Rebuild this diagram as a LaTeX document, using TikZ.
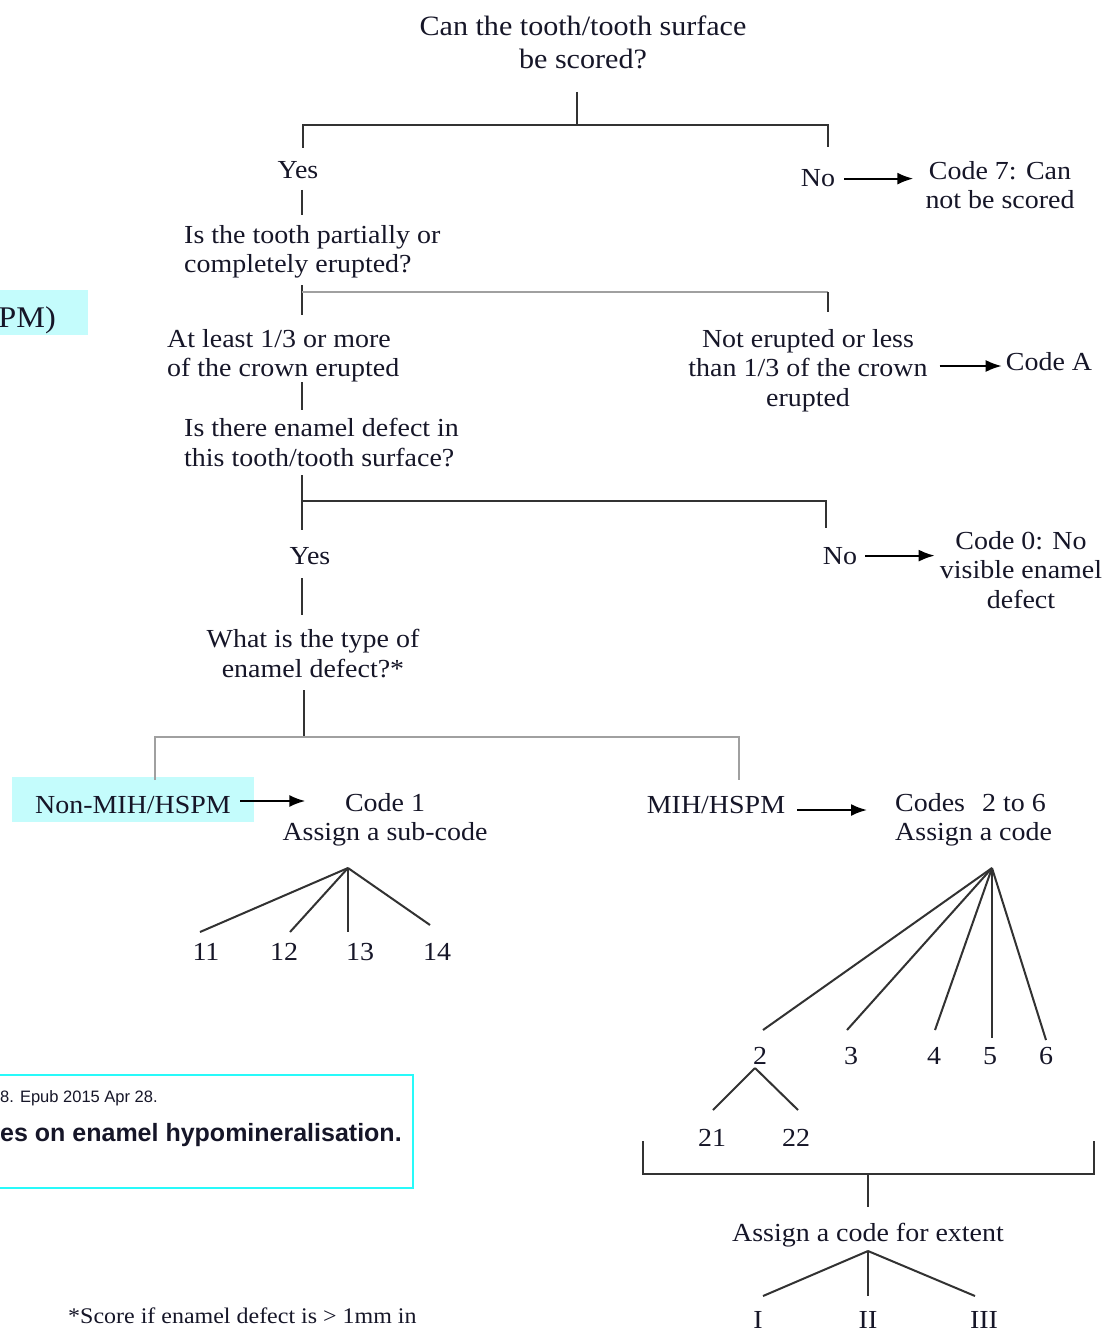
\documentclass[tikz,border=0pt]{standalone}
\usepackage{fontspec}
\setmainfont[FakeStretch=1.075]{Liberation Serif}
\newfontfamily\arialf{Liberation Sans}
\usetikzlibrary{arrows.meta}
\definecolor{ink}{RGB}{22,22,40}
\definecolor{lineg}{RGB}{50,50,50}
\definecolor{lightg}{RGB}{160,160,160}
\definecolor{cyanfill}{RGB}{196,252,252}
\definecolor{cyanline}{RGB}{40,250,250}
\begin{document}
\begin{tikzpicture}[x=1pt,y=-1pt,
  txt/.style={inner sep=0pt, text=ink, font=\fontsize{26}{29.5}\selectfont},
  bigtxt/.style={inner sep=0pt, text=ink, font=\fontsize{28}{33}\selectfont},
  lbl/.style={txt, anchor=base},
  ln/.style={draw=lineg, line width=2pt},
  lnlight/.style={draw=lightg, line width=2.6pt},
  arr/.style={draw=black, line width=2pt, -{Latex[length=16pt,width=12pt]}},
  hl/.style={fill=cyanfill, draw=none}]
\useasboundingbox (0,0) rectangle (1119,1332);
\fill[white] (0,0) rectangle (1119,1332);

% side fragments
\node[hl, inner sep=0pt, minimum width=88pt, minimum height=45pt, anchor=north west] (pmbox) at (0,290) {};
\node[inner sep=0pt, text=ink, font=\fontsize{30}{34}\selectfont, anchor=base east] (pm) at (56,327) {PM)};

\node[draw=cyanline, line width=2pt, inner sep=0pt, minimum width=430pt, minimum height=113pt, anchor=north east] (refbox) at (414,1074) {};
\node[inner sep=0pt, text=ink, font=\arialf\fontsize{16.5}{19}\selectfont, anchor=base west] (epub) at (0,1102) {8. Epub 2015 Apr 28.};
\node[inner sep=0pt, text=ink, font=\arialf\bfseries\fontsize{25}{28}\selectfont, anchor=base west] (ttl) at (0,1141) {es on enamel hypomineralisation.};

% main text nodes
\node[bigtxt, align=center, anchor=north] (title) at (583,16) {Can the tooth/tooth surface\\be scored?};
\node[lbl] (yes1) at (298,179) {Yes};
\node[lbl] (no1) at (818,187) {No};
\node[txt, align=center, anchor=north] (code7) at (1000,161) {Code 7: Can\\not be scored};
\node[txt, align=left, anchor=north west] (q2) at (184,225) {Is the tooth partially or\\completely erupted?};
\node[txt, align=left, anchor=north west] (a1) at (167,329) {At least 1/3 or more\\of the crown erupted};
\node[txt, align=center, anchor=north] (n2) at (808,329) {Not erupted or less\\than 1/3 of the crown\\erupted};
\node[lbl] (codeA) at (1049,370) {Code A};
\node[txt, align=left, anchor=north west] (q3) at (184,418) {Is there enamel defect in\\this tooth/tooth surface?};
\node[lbl] (yes3) at (310,564) {Yes};
\node[lbl] (no3) at (840,564) {No};
\node[txt, align=center, anchor=north] (code0) at (1021,531) {Code 0: No\\visible enamel\\defect};
\node[txt, align=center, anchor=north] (q4) at (313,629) {What is the type of\\enamel defect?*};

\node[hl, txt, minimum width=242pt, minimum height=45pt, text height=27pt, text depth=0pt] (nonmih) at (133,799.5) {Non-MIH/HSPM};
\node[txt, align=center, anchor=north] (code1) at (385,793) {Code 1\\Assign a sub-code};
\node[lbl] (mih) at (716,813) {MIH/HSPM};
\node[txt, align=left, anchor=north west] (codes) at (895,793) {Codes\hspace{17pt}2 to 6\\Assign a code};

\node[lbl] (c11) at (206,960) {11};
\node[lbl] (c12) at (284,960) {12};
\node[lbl] (c13) at (360,960) {13};
\node[lbl] (c14) at (437,960) {14};

\node[lbl] (c2) at (760,1064) {2};
\node[lbl] (c3) at (851,1064) {3};
\node[lbl] (c4) at (934,1064) {4};
\node[lbl] (c5) at (990,1064) {5};
\node[lbl] (c6) at (1046,1064) {6};
\node[lbl] (c21) at (712,1146) {21};
\node[lbl] (c22) at (796,1146) {22};

\node[lbl] (extent) at (868,1241) {Assign a code for extent};
\node[lbl] (eI) at (758,1328) {I};
\node[lbl] (eII) at (868,1328) {II};
\node[lbl] (eIII) at (984,1328) {III};

\node[inner sep=0pt, text=ink, font=\fontsize{22.3}{25}\selectfont, anchor=base west] (foot) at (68,1323) {*Score if enamel defect is > 1mm in};

% junction coordinates
\coordinate (t0) at (577,92);
\coordinate (t1) at (577,125);
\coordinate (tL) at (303,125);
\coordinate (tLb) at (303,148);
\coordinate (tR) at (828,125);
\coordinate (tRb) at (828,147);
\coordinate (y1a) at (302,190);
\coordinate (y1b) at (302,215);
\coordinate (q2a) at (302,285);
\coordinate (q2b) at (302,315);
\coordinate (q2j) at (302,292);
\coordinate (q2R) at (828,292);
\coordinate (q2Rb) at (828,312);
\coordinate (a1a) at (302,382);
\coordinate (a1b) at (302,410);
\coordinate (q3a) at (302,475);
\coordinate (q3b) at (302,530);
\coordinate (q3j) at (302,501);
\coordinate (q3R) at (826,501);
\coordinate (q3Rb) at (826,528);
\coordinate (y3a) at (302,578);
\coordinate (y3b) at (302,615);
\coordinate (q4a) at (304,690);
\coordinate (q4j) at (304,737);
\coordinate (q4L) at (155,737);
\coordinate (q4Lb) at (155,780);
\coordinate (q4R) at (739,737);
\coordinate (q4Rb) at (739,780);
\coordinate (s1) at (348,868);
\coordinate (s2) at (992,868);
\coordinate (s21) at (755,1068);
\coordinate (bL) at (643,1141);
\coordinate (bLj) at (643,1174);
\coordinate (bR) at (1094,1141);
\coordinate (bRj) at (1094,1174);
\coordinate (bC) at (868,1174);
\coordinate (bCb) at (868,1207);
\coordinate (s3) at (868,1251);

% tree lines
\draw[ln] (t0) -- (t1);
\draw[ln] (tLb) -- (tL) -- (tR) -- (tRb);
\draw[ln] (y1a) -- (y1b);
\draw[ln] (q2a) -- (q2b);
\draw[lnlight] (q2j) -- (q2R);
\draw[ln] (q2R) -- (q2Rb);
\draw[ln] (a1a) -- (a1b);
\draw[ln] (q3a) -- (q3b);
\draw[ln] (q3j) -- (q3R) -- (q3Rb);
\draw[ln] (y3a) -- (y3b);
\draw[ln] (q4a) -- (q4j);
\draw[lnlight] (q4Lb) -- (q4L) -- (q4R) -- (q4Rb);

\draw[ln] (s1) -- (200,932) coordinate (e11);
\draw[ln] (s1) -- (290,932) coordinate (e12);
\draw[ln] (s1) -- (348,932) coordinate (e13);
\draw[ln] (s1) -- (430,925) coordinate (e14);

\draw[ln] (s2) -- (763,1030) coordinate (e2);
\draw[ln] (s2) -- (847,1030) coordinate (e3);
\draw[ln] (s2) -- (935,1030) coordinate (e4);
\draw[ln] (s2) -- (992,1038) coordinate (e5);
\draw[ln] (s2) -- (1046,1040) coordinate (e6);

\draw[ln] (s21) -- (713,1110) coordinate (e21);
\draw[ln] (s21) -- (798,1110) coordinate (e22);

\draw[ln] (bL) -- (bLj) -- (bRj) -- (bR);
\draw[ln] (bC) -- (bCb);

\draw[ln] (s3) -- (763,1296) coordinate (eI1);
\draw[ln] (s3) -- (868,1296) coordinate (eII1);
\draw[ln] (s3) -- (975,1296) coordinate (eIII1);

% arrows
\draw[arr, shorten <=9pt, shorten >=12pt] (no1.east) -- (no1.east -| code7.west);
\draw[arr, shorten <=12pt, shorten >=4pt] (n2.east |- 0,366) -- (codeA.west |- 0,366);
\draw[arr, shorten <=8pt, shorten >=5pt] (no3.east) -- (no3.east -| code0.west);
\draw[arr] ([xshift=-14pt]nonmih.east |- 0,801) -- ([xshift=23pt]code1.west |- 0,801);
\draw[arr, shorten <=12pt, shorten >=28pt] (mih.east |- 0,810) -- (codes.west |- 0,810);
\end{tikzpicture}
\end{document}
